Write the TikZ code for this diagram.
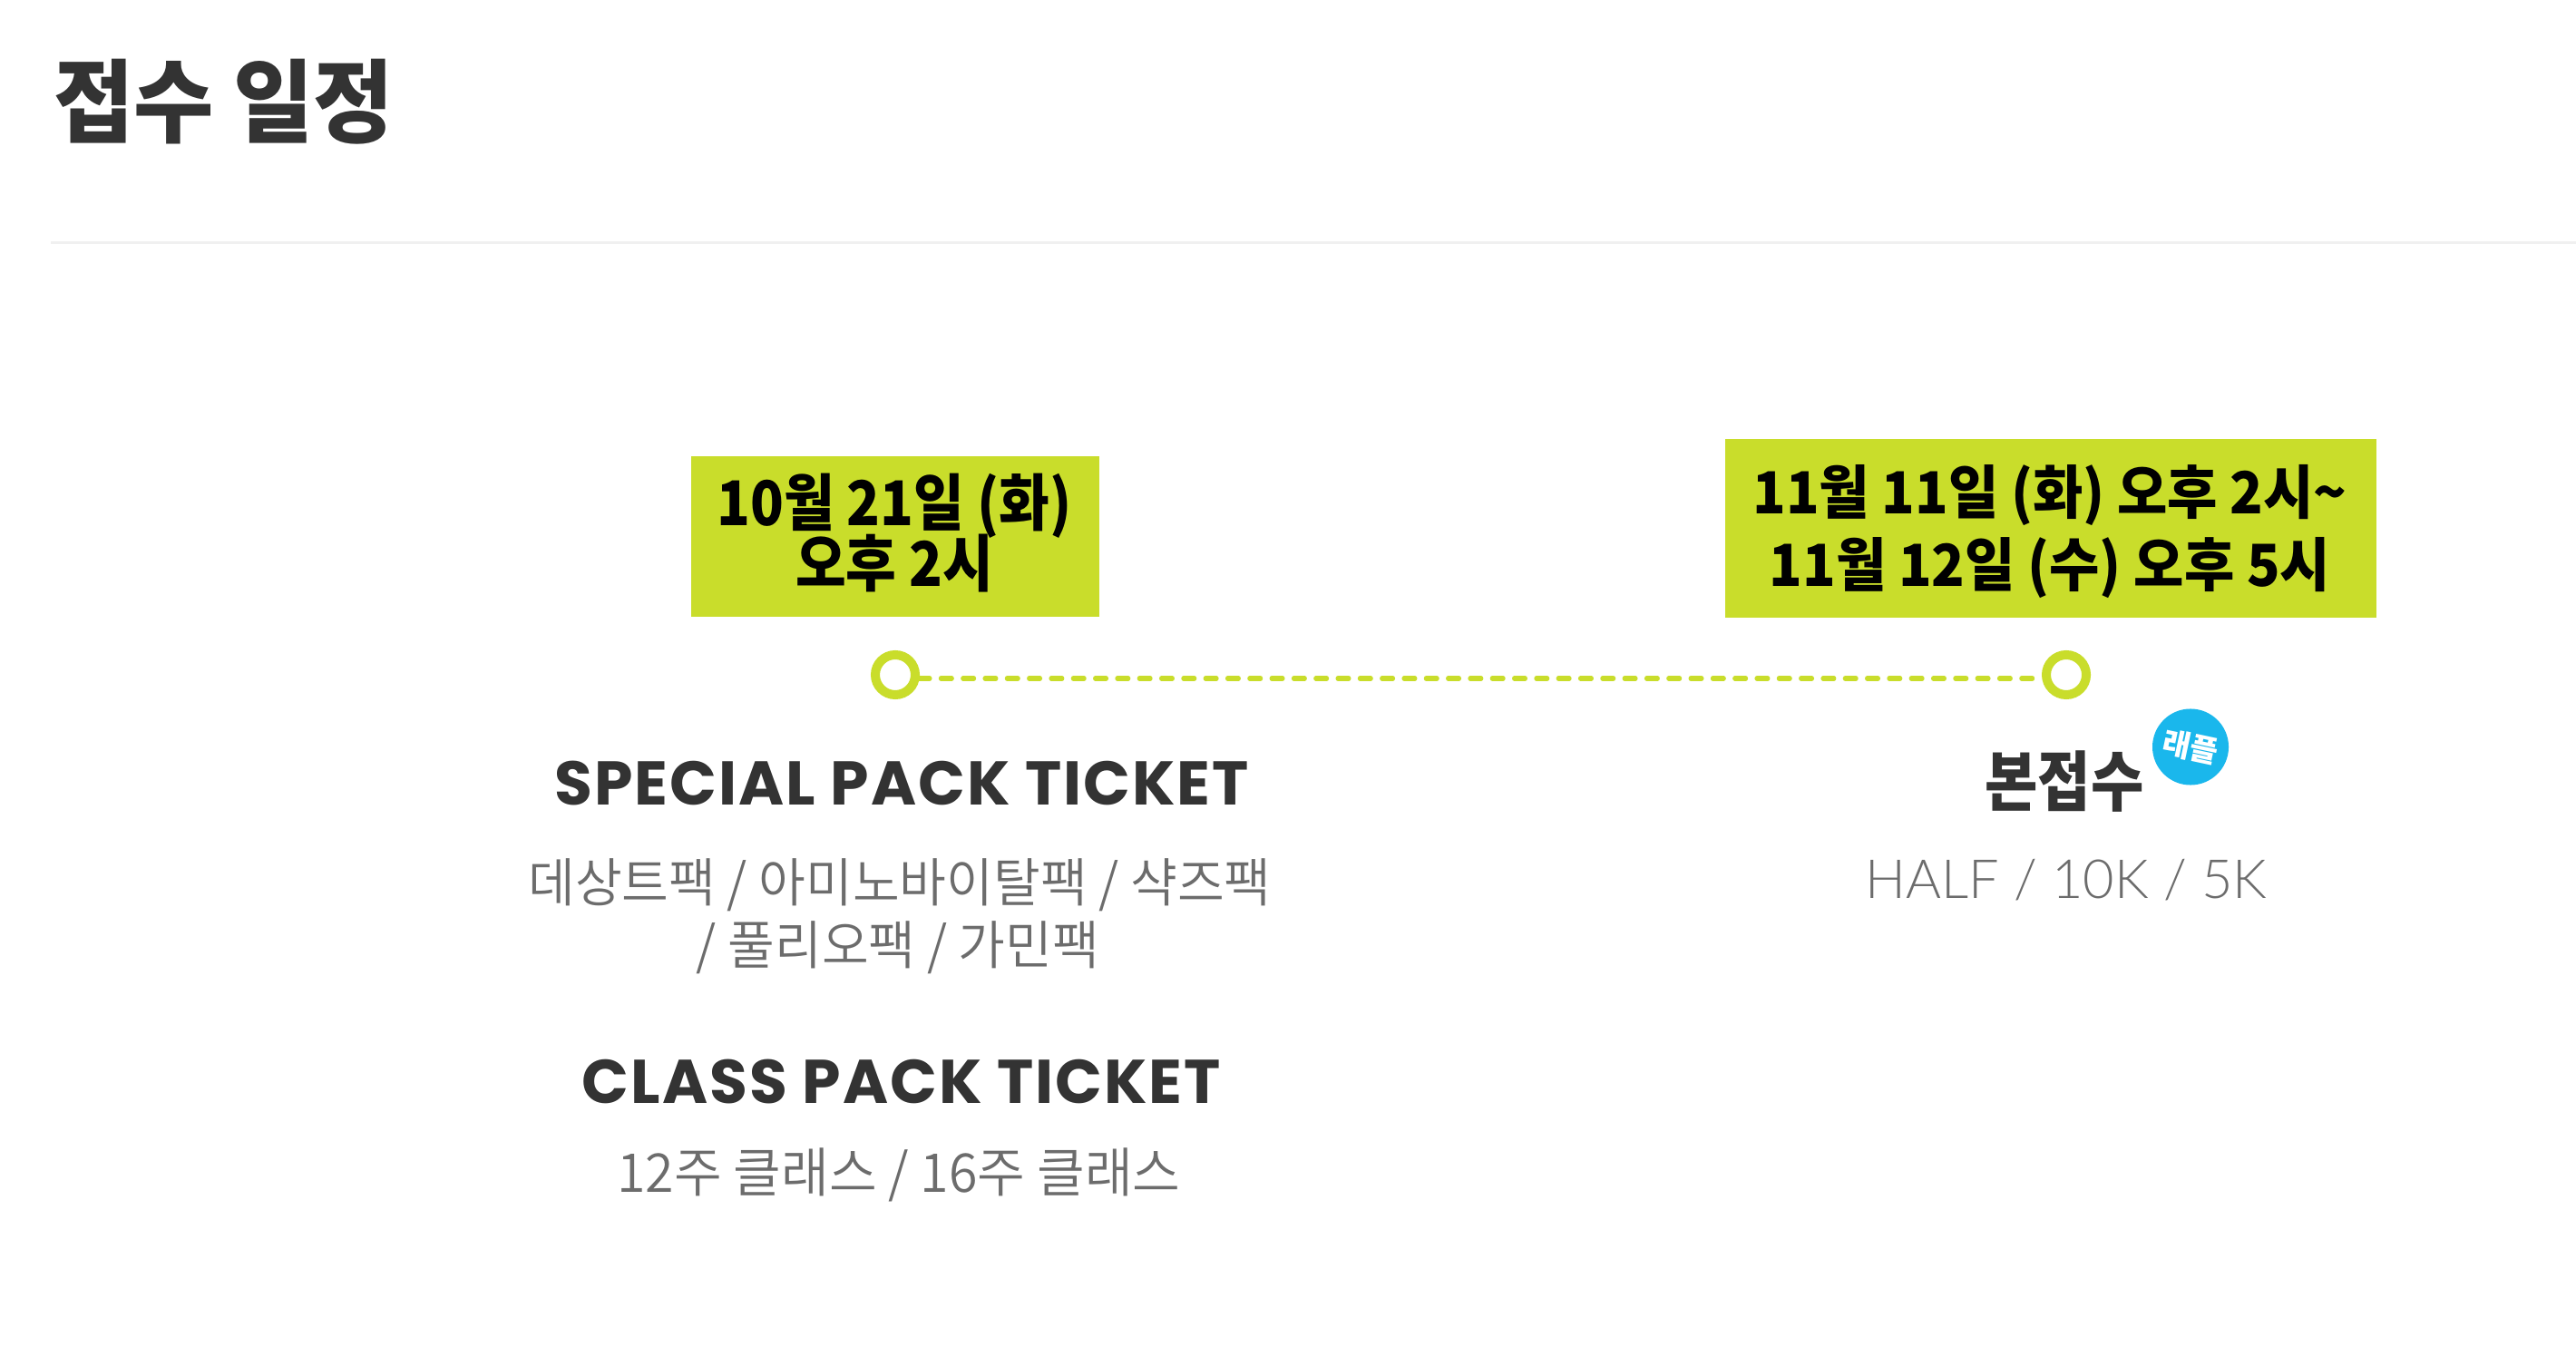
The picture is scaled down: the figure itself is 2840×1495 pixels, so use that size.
\documentclass[tikz,border=0pt]{standalone}
\usepackage{fontspec}
\newfontfamily\krtitle{Noto Sans CJK KR}[FakeStretch=0.96]
\newfontfamily\krboxA{Noto Sans CJK KR}[FakeStretch=0.89]
\newfontfamily\krboxB{Noto Sans CJK KR}[FakeStretch=0.94]
\newfontfamily\krmain{Noto Sans CJK KR}[FakeStretch=0.88]
\newfontfamily\kr{Noto Sans CJK KR}
\newfontfamily\krl{Noto Sans CJK KR}[UprightFont={* DemiLight}, FakeStretch=0.97]
\newfontfamily\pop{Poppins}[LetterSpace=3]
\newfontfamily\lato{Lato}[UprightFont={* Light}]
\newcommand\fsz[1]{\fontsize{#1}{#1}\selectfont}
\definecolor{lime}{RGB}{201,221,43}
\definecolor{dark}{RGB}{51,51,51}
\definecolor{graytxt}{RGB}{108,108,108}
\definecolor{badge}{RGB}{26,183,236}
\definecolor{sep}{RGB}{240,240,240}
\begin{document}
\begin{tikzpicture}[x=0.01cm,y=-0.01cm,
  every node/.style={inner sep=0pt, outer sep=0pt},
  datebox/.style={fill=lime, draw=none},
  datetxt/.style={anchor=base, text=black},
  ring/.style={circle, draw=lime, line width=0.1cm, fill=white, minimum size=0.44cm},
  headtxt/.style={anchor=base, text=dark, font=\pop\bfseries\fsz{19.35}},
  subtxt/.style={anchor=base, text=graytxt, font=\krl\fsz{16.5}},
]
\useasboundingbox (0,0) rectangle (2840,1495);
\fill[white] (0,0) rectangle (2840,1495);

% title and separator
\node[anchor=base west, text=dark, font=\krtitle\bfseries\fsz{28.45}] (title) at (59,150) {접수 일정};
\coordinate (sepL) at (56,268);
\coordinate (sepR) at (2840,268);
\draw[sep, line width=0.03cm] (sepL) -- (sepR);

% date boxes
\node[datebox, minimum width=4.49cm, minimum height=1.77cm] (box1) at (987,591.5) {};
\node[datetxt, font=\krboxA\bfseries\fsz{19.35}] (box1a) at (986,580) {10월 21일 (화)};
\node[datetxt, font=\krboxA\bfseries\fsz{19.35}] (box1b) at (986,647) {오후 2시};

\node[datebox, minimum width=7.18cm, minimum height=1.97cm] (box2) at (2261,582.5) {};
\node[datetxt, font=\krboxB\bfseries\fsz{18.2}] (box2a) at (2260,567) {11월 11일 (화) 오후 2시\char"007E};
\node[datetxt, font=\krboxB\bfseries\fsz{18.2}] (box2b) at (2260,647) {11월 12일 (수) 오후 5시};

% timeline
\node[ring] (c1) at (987,744) {};
\node[ring] (c2) at (2278,744) {};
\draw[lime, line width=0.05cm, line cap=round, dash pattern=on 0.12cm off 0.123cm]
  ([yshift=-0.04cm,xshift=0.04cm]c1.east) -- ([yshift=-0.04cm,xshift=-0.04cm]c2.west);

% left column texts
\node[headtxt] (sp) at (994,887) {SPECIAL PACK TICKET};
\node[subtxt] (sp1) at (992,994) {데상트팩 / 아미노바이탈팩 / 샥즈팩};
\node[subtxt] (sp2) at (990,1063) {/ 풀리오팩 / 가민팩};
\node[headtxt] (cp) at (994,1216) {CLASS PACK TICKET};
\node[subtxt, font=\krl\fsz{16.8}] (cp1) at (991,1314) {12주 클래스 / 16주 클래스};

% right column texts
\node[anchor=base, text=dark, font=\krmain\bfseries\fsz{20.5}] (main) at (2276,888) {본접수};
\node[circle, fill=badge, minimum size=0.84cm] (bd) at (2415,823.5) {};
\node[text=white, font=\kr\bfseries\fsz{9.5}, rotate=-12] (bdt) at (bd.center) {래플};
\node[anchor=base, text=graytxt, font=\lato\fsz{16.9}] (half) at (2278,990) {HALF / 10K / 5K};
\end{tikzpicture}
\end{document}
